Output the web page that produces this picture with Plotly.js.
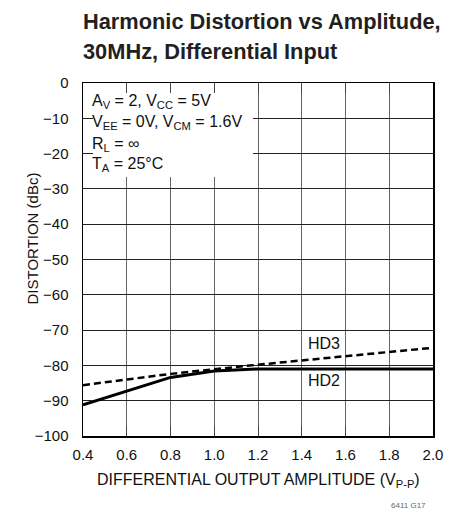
<!DOCTYPE html>
<html>
<head>
<meta charset="utf-8">
<script src="https://cdn.plot.ly/plotly-3.0.1.min.js"></script>
<style>html,body{margin:0;padding:0;background:#fff}#chart{width:456px;height:512px}</style>
</head>
<body>
<div id="chart"></div>
<script>
// Data
const hd2X = [0.4, 0.6, 0.8, 1.0, 1.2, 1.6, 2.0];
const hd2Y = [-91.2, -87.2, -83.4, -81.6, -81.0, -81.0, -81.0];
const hd3X = [0.4, 0.8, 1.2, 1.6, 2.0];
const hd3Y = [-85.6, -82.4, -79.8, -77.4, -75.0];
const xTicks = [0.4, 0.6, 0.8, 1.0, 1.2, 1.4, 1.6, 1.8, 2.0];
const xTickText = ['0.4', '0.6', '0.8', '1.0', '1.2', '1.4', '1.6', '1.8', '2.0'];
const yTicks = [0, -10, -20, -30, -40, -50, -60, -70, -80, -90, -100];
const yTickText = ['0', '\u221210', '\u221220', '\u221230', '\u221240', '\u221250', '\u221260', '\u221270', '\u221280', '\u221290', '\u2212100'];
const titleLines = ['Harmonic Distortion vs Amplitude,', '30MHz, Differential Input'];
const condLines = [
  'A<sub>V</sub> = 2, V<sub>CC</sub> = 5V',
  'V<sub>EE</sub> = 0V, V<sub>CM</sub> = 1.6V',
  'R<sub>L</sub> = \u221e',
  'T<sub>A</sub> = 25\u00b0C'
];
const condY = [-5.3, -11.3, -17.3, -23.2];

const F = 'Liberation Sans Narrow, Liberation Sans, Arial, sans-serif';
const FR = 'Liberation Sans, Arial, sans-serif';

// pixel helpers for paper coordinates (plot area 83..433 x, 83..436 y)
const px = v => (v - 83) / 350;
const py = v => (436 - v) / 353;

const traces = [
  {x: hd2X, y: hd2Y, mode: 'lines', line: {color: '#000', width: 3}, name: 'HD2', showlegend: false, hoverinfo: 'skip'},
  {x: hd3X, y: hd3Y, mode: 'lines', line: {color: '#000', width: 2.5, dash: '7px,4px'}, name: 'HD3', showlegend: false, hoverinfo: 'skip'}
];

const annotations = condLines.map((t, i) => ({
  x: 0.43, y: condY[i], xref: 'x', yref: 'y', text: t, showarrow: false,
  xanchor: 'left', yanchor: 'middle', font: {family: F, size: 16, color: '#111'}
}));
titleLines.forEach((t, i) => annotations.push({
  x: px(81), y: py([22, 52][i]), xref: 'paper', yref: 'paper', text: '<b>' + t + '</b>', showarrow: false,
  xanchor: 'left', yanchor: 'middle', font: {family: F, size: 21.8, color: '#231f20'}
}));
annotations.push(
  {x: 1.5, y: -73.8, xref: 'x', yref: 'y', text: 'HD3', showarrow: false, font: {family: F, size: 16, color: '#111'}},
  {x: 1.5, y: -84.4, xref: 'x', yref: 'y', text: 'HD2', showarrow: false, font: {family: F, size: 16, color: '#111'}},
  {x: px(21), y: py(239), xref: 'paper', yref: 'paper', text: 'DISTORTION (dBc)', textangle: -90, showarrow: false,
   font: {family: F, size: 15, color: '#111'}},
  {x: 0.5, y: py(481), xref: 'paper', yref: 'paper', text: 'DIFFERENTIAL OUTPUT AMPLITUDE (V<sub>P-P</sub>)', showarrow: false,
   xanchor: 'center', yanchor: 'middle', font: {family: F, size: 16, color: '#111'}},
  {x: px(428), y: py(505), xref: 'paper', yref: 'paper', text: '6411 G17', showarrow: false,
   xanchor: 'right', yanchor: 'middle', font: {family: FR, size: 8, color: '#666'}}
);

const layout = {
  width: 456, height: 512,
  margin: {l: 83, r: 23, t: 83, b: 76},
  paper_bgcolor: '#fff', plot_bgcolor: '#fff',
  xaxis: {
    range: [0.4, 2.0], tickvals: xTicks, ticktext: xTickText,
    showgrid: true, gridcolor: '#666', gridwidth: 1,
    showline: true, linecolor: '#000', linewidth: 1.5, mirror: 'ticks',
    ticks: 'inside', ticklen: 10, tickcolor: '#444', tickwidth: 1,
    ticklabelstandoff: 4,
    tickfont: {family: FR, size: 15, color: '#111'},
    zeroline: false, fixedrange: true
  },
  yaxis: {
    range: [-100, 0], tickvals: yTicks, ticktext: yTickText,
    showgrid: true, gridcolor: '#222', gridwidth: 1,
    showline: true, linecolor: '#000', linewidth: 1.5, mirror: 'ticks',
    ticks: 'inside', ticklen: 10, tickcolor: '#222', tickwidth: 1,
    ticklabelstandoff: 10,
    tickfont: {family: FR, size: 15, color: '#111'},
    zeroline: false, fixedrange: true
  },
  shapes: [
    {type: 'rect', xref: 'x', yref: 'y', x0: 0.4, x1: 1.177, y0: -26.6, y1: 0,
     fillcolor: '#fff', line: {width: 0}, layer: 'between'}
  ],
  annotations: annotations,
  showlegend: false
};

Plotly.newPlot('chart', traces, layout, {staticPlot: true, displayModeBar: false});
</script>
</body>
</html>
